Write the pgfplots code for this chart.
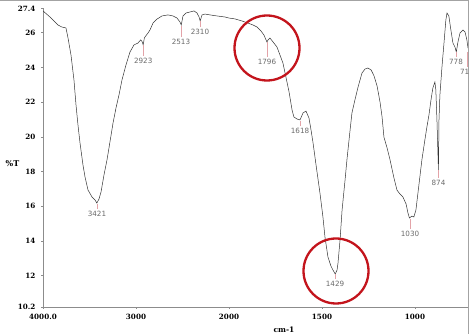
\documentclass[border=0pt]{standalone}
\usepackage{pgfplots}
\usepackage{pgfplotstable}
\pgfplotsset{compat=1.18}
\usepackage{fontspec}
\setmainfont{DejaVu Serif}
\newfontfamily\labfont{DejaVu Sans}
\definecolor{curve}{HTML}{333333}
\definecolor{axgray}{HTML}{8C8C8C}
\definecolor{labgray}{HTML}{6A6A6A}
\definecolor{pinkline}{HTML}{E3A3A8}
\definecolor{circred}{HTML}{C3141C}

\pgfplotstableread{
w y
4000 27.26
3925 26.91
3839 26.45
3796 26.33
3753 26.28
3731 25.70
3699 24.72
3667 23.28
3645 21.84
3624 20.69
3602 19.65
3570 18.38
3548 17.69
3516 16.94
3473 16.54
3441 16.37
3421 16.19
3398 16.42
3376 16.83
3344 17.81
3312 18.67
3280 19.71
3247 20.80
3215 21.67
3183 22.42
3151 23.28
3108 24.14
3065 24.89
3022 25.30
2979 25.41
2950 25.59
2935 25.50
2923 25.30
2910 25.70
2903 25.76
2871 25.99
2850 26.16
2817 26.56
2774 26.79
2721 26.97
2656 27.03
2602 26.97
2559 26.85
2527 26.62
2513 26.45
2495 26.97
2462 27.14
2419 27.20
2376 27.26
2344 27.14
2322 26.91
2310 26.68
2290 27.03
2258 27.08
2204 27.03
2129 26.97
2043 26.91
2000 26.85
1968 26.80
1930 26.68
1898 26.56
1871 26.45
1849 26.33
1828 26.10
1812 25.87
1801 25.59
1796 25.47
1790 25.59
1780 25.70
1763 25.47
1742 25.18
1726 24.72
1710 24.26
1693 23.40
1677 22.59
1661 21.55
1651 21.15
1634 21.03
1618 20.98
1602 21.38
1586 21.49
1570 21.09
1559 20.40
1548 19.65
1532 18.38
1511 16.77
1495 15.39
1484 14.23
1468 13.08
1452 12.56
1441 12.33
1429 12.10
1419 12.33
1414 12.73
1403 14.06
1392 15.79
1376 17.52
1366 18.67
1349 20.40
1339 21.38
1323 22.13
1306 22.88
1285 23.68
1269 23.91
1253 23.97
1236 23.86
1220 23.51
1204 22.94
1188 22.01
1177 21.15
1167 19.99
1150 19.36
1134 18.67
1113 17.63
1097 16.94
1081 16.71
1065 16.54
1048 16.14
1038 15.62
1030 15.33
1016 15.44
1006 15.39
995 15.79
979 17.23
963 18.67
947 19.82
936 20.57
925 21.26
914 22.13
904 22.82
893 23.17
888 22.71
882 20.98
874 18.10
871 20.98
866 22.42
855 24.03
845 25.30
834 26.74
828 27.14
818 26.97
807 26.16
796 25.41
785 25.18
778 24.89
769 25.47
758 25.99
742 26.16
731 26.05
721 25.59
715 25.12
}\spectrum

\begin{document}
\begin{tikzpicture}
\useasboundingbox (0,0) rectangle (471pt,334pt);
\begin{axis}[
  scale only axis,
  width=425pt, height=298.5pt,
  at={(43pt,27pt)}, anchor=south west,
  xmin=0, xmax=2285, ymin=10.2, ymax=27.4,
  axis lines=left,
  axis line style={draw=axgray, line width=0.8pt, -},
  tick style={draw=axgray, line width=0.6pt},
  tick align=outside,
  major tick length=2pt,
  xtick={0,500,1000,1500,2000},
  xticklabels={4000.0,3000,2000,1500,1000},
  ytick={10.2,12,14,16,18,20,22,24,26,27.4},
  yticklabels={10.2,12,14,16,18,20,22,24,26,27.4},
  ticklabel style={font=\bfseries\fontsize{7.2}{8}\selectfont, text=black},
  xticklabel style={yshift=-2pt},
  yticklabel style={xshift=-2pt},
  clip=true,
]
\addplot[curve, line width=0.5pt, mark=none]
  table[x expr={\thisrow{w}>=2000 ? (4000-\thisrow{w})/2 : 3000-\thisrow{w}}, y=y] {\spectrum};
\end{axis}

\begin{scope}[x=1pt, y=-1pt, yshift=334pt]
  % frame
  \draw[axgray!80, line width=1pt] (0,0.5) -- (468,0.5) -- (468,334);
  % axis titles
  \node[font=\bfseries\fontsize{8}{9}\selectfont] at (12.5,164) {\%T};
  \node[font=\bfseries\fontsize{7.5}{9}\selectfont] at (284,330) {cm-1};
  % peak ticks
  \begin{scope}[pinkline, line width=0.6pt]
    \draw (97,204) -- (97,209);
    \draw (143.2,45) -- (143.2,56);
    \draw (181,26) -- (181,37);
    \draw (200,21.5) -- (200,27);
    \draw (267,42.5) -- (267,57);
    \draw (300,121) -- (300,126);
    \draw (335,274.5) -- (335,279);
    \draw (410,219) -- (410,229);
    \draw (438.5,170.5) -- (438.5,178);
    \draw (456,52) -- (456,57);
    \draw (467,52) -- (467,67);
  \end{scope}
  % peak labels
  \begin{scope}[every node/.style={font=\labfont\fontsize{7.2}{8}\selectfont, text=labgray, inner sep=0pt}]
    \node at (97,213.5) {3421};
    \node at (143.2,60.5) {2923};
    \node at (181,41.5) {2513};
    \node at (200,31.5) {2310};
    \node at (267,61.5) {1796};
    \node at (300,130.5) {1618};
    \node at (335,283.5) {1429};
    \node at (410,233.5) {1030};
    \node at (438.5,182.5) {874};
    \node at (456,61.5) {778};
    \begin{scope}
      \clip (440,40) rectangle (468,90);
      \node at (467,71.5) {715};
    \end{scope}
  \end{scope}
  % circles
  \draw[circred, line width=2.3pt] (267,48) circle (32.5);
  \draw[circred, line width=2.3pt] (336,271) circle (32.5);
\end{scope}
\end{tikzpicture}
\end{document}
